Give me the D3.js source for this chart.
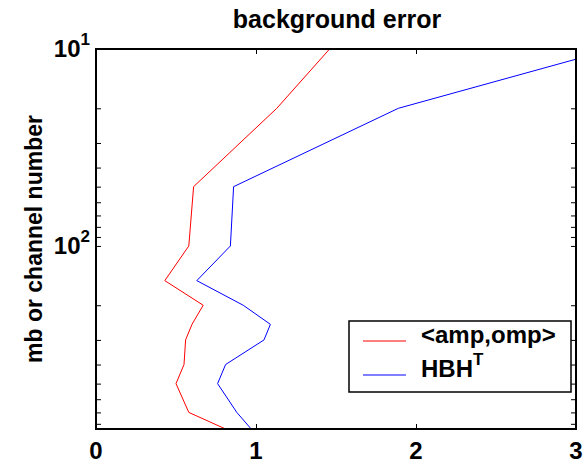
<!DOCTYPE html>
<html>
<head>
<meta charset="utf-8">
<title>background error</title>
<script src="https://d3js.org/d3.v7.min.js"></script>
<style>
  body { margin: 0; background: #fff; }
  text { font-family: "Liberation Sans", Arial, sans-serif; font-weight: bold; fill: #000; }
</style>
</head>
<body>
<script>
// pressure levels (mb) and the two error profiles
var levels = [10, 20, 50, 100, 150, 200, 250, 300, 400, 500, 700, 850];
var ampOmp = [1.46, 1.13, 0.61, 0.58, 0.43, 0.67, 0.60, 0.56, 0.55, 0.50, 0.58, 0.81];
var hbht   = [3.23, 1.89, 0.86, 0.84, 0.63, 0.92, 1.09, 1.05, 0.81, 0.76, 0.88, 0.97];
var xTicks = [0, 1, 2, 3];
var yMajor = [10, 100];
var yMinor = [20, 30, 40, 50, 60, 70, 80, 90, 200, 300, 400, 500, 600, 700, 800];

var W = 587, H = 463;
var plot = {left: 96, right: 576, top: 49, bottom: 429};

var x = d3.scaleLinear().domain([0, 3]).range([plot.left, plot.right]);
var y = d3.scaleLog().domain([10, 850]).range([plot.top, plot.bottom]);

var svg = d3.select("body").append("svg")
    .attr("width", W)
    .attr("height", H);

svg.append("defs").append("clipPath")
    .attr("id", "plotclip")
  .append("rect")
    .attr("x", plot.left)
    .attr("y", plot.top)
    .attr("width", plot.right - plot.left)
    .attr("height", plot.bottom - plot.top);

//ticks (inward, all four sides)
var yTickVals = yMajor.concat(yMinor);
function styleAxis(g){
    g.select(".domain").remove();
    g.selectAll("line").attr("stroke", "#000").attr("stroke-width", 1);
    g.selectAll("text").remove();
}
svg.append("g").attr("transform", "translate(0," + plot.bottom + ")")
    .call(d3.axisBottom(x).tickValues(xTicks).tickSize(-5)).call(styleAxis);
svg.append("g").attr("transform", "translate(0," + plot.top + ")")
    .call(d3.axisTop(x).tickValues(xTicks).tickSize(-5)).call(styleAxis);
svg.append("g").attr("transform", "translate(" + plot.left + ",0)")
    .call(d3.axisLeft(y).tickValues(yTickVals).tickSize(-5)).call(styleAxis);
svg.append("g").attr("transform", "translate(" + plot.right + ",0)")
    .call(d3.axisRight(y).tickValues(yTickVals).tickSize(-5)).call(styleAxis);

//lines
var line = d3.line()
    .x(function(d){ return x(d[0]); })
    .y(function(d){ return y(d[1]); });

var series = [
    {name: "<amp,omp>", values: ampOmp, color: "#ff0000"},
    {name: "HBH", values: hbht, color: "#0000ff"}
];

svg.append("g").attr("clip-path", "url(#plotclip)")
  .selectAll("path")
  .data(series)
  .enter()
  .append("path")
    .attr("d", function(s){ return line(s.values.map(function(v, i){ return [v, levels[i]]; })); })
    .attr("fill", "none")
    .attr("stroke", function(s){ return s.color; })
    .attr("stroke-width", 1);

//frame
svg.append("rect")
    .attr("x", plot.left)
    .attr("y", plot.top)
    .attr("width", plot.right - plot.left)
    .attr("height", plot.bottom - plot.top)
    .attr("fill", "none")
    .attr("stroke", "#000")
    .attr("stroke-width", 2);

//x tick labels
svg.append("g").selectAll("text")
    .data(xTicks)
    .enter()
    .append("text")
    .attr("x", function(d){ return x(d); })
    .attr("y", 459)
    .attr("text-anchor", "middle")
    .attr("font-size", 24)
    .text(function(d){ return d; });

//y tick labels 10^n
var yl = svg.append("g").selectAll("text")
    .data(yMajor)
    .enter()
    .append("text")
    .attr("x", 90)
    .attr("y", function(d){ return y(d) + 8; })
    .attr("text-anchor", "end")
    .attr("font-size", 24);
yl.append("tspan").text("10");
yl.append("tspan")
    .attr("font-size", 17)
    .attr("dy", -12)
    .text(function(d){ return Math.round(Math.log10(d)); });

//title
svg.append("text")
    .attr("x", (plot.left + plot.right) / 2 + 1)
    .attr("y", 28)
    .attr("text-anchor", "middle")
    .attr("font-size", 25)
    .text("background error");

//y label
svg.append("text")
    .attr("transform", "translate(42," + ((plot.top + plot.bottom) / 2) + ") rotate(-90)")
    .attr("text-anchor", "middle")
    .attr("font-size", 23)
    .text("mb or channel number");

//legend
var legend = svg.append("g");
legend.append("rect")
    .attr("x", 349)
    .attr("y", 321)
    .attr("width", 222)
    .attr("height", 71)
    .attr("fill", "#fff")
    .attr("stroke", "#000")
    .attr("stroke-width", 1.5);

var items = legend.selectAll("g.item")
    .data(series)
    .enter()
    .append("g")
    .attr("transform", function(d, i){ return "translate(0," + (i * 34) + ")"; });
items.append("line")
    .attr("x1", 363).attr("x2", 406)
    .attr("y1", 341).attr("y2", 341)
    .attr("stroke", function(d){ return d.color; })
    .attr("stroke-width", 1);
var lt = items.append("text")
    .attr("x", 421)
    .attr("y", 343)
    .attr("font-size", 24);
lt.append("tspan").text(function(d){ return d.name; });
lt.filter(function(d, i){ return i == 1; })
  .append("tspan")
    .attr("font-size", 17)
    .attr("dy", -12)
    .text("T");
</script>
</body>
</html>
